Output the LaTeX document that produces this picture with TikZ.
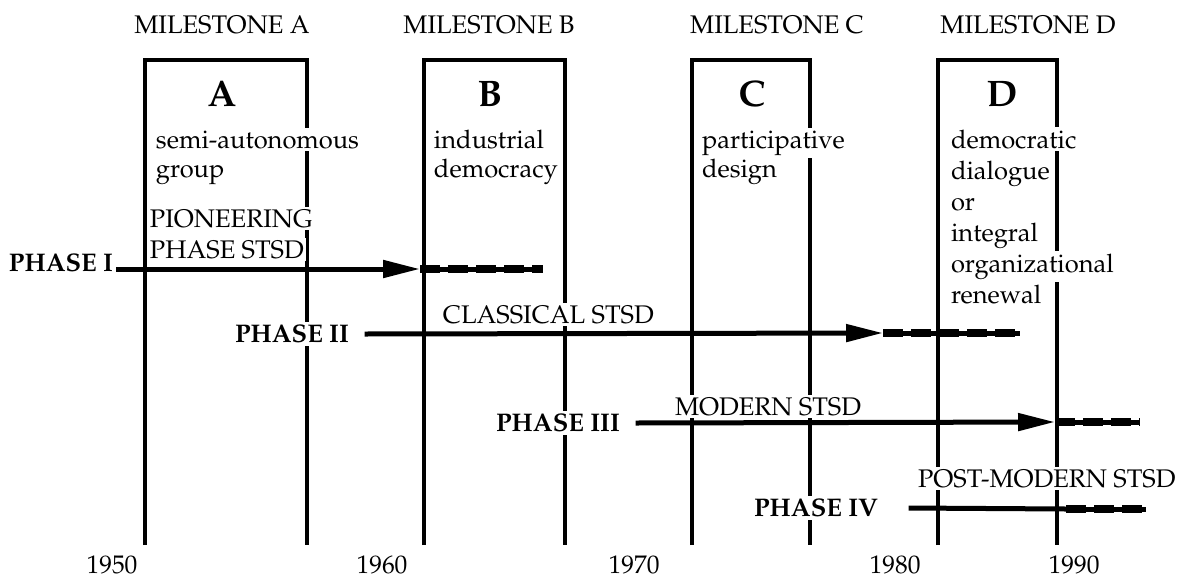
\documentclass[tikz,border=0pt]{standalone}
\usepackage[T1]{fontenc}
\renewcommand{\rmdefault}{ppl}
\usepackage{tikz}
\usetikzlibrary{arrows.meta,positioning,calc}
\tikzset{
  boxline/.style={line width=0.7mm,line join=miter},
  milestone/.style={font=\fontsize{14.5}{17}\selectfont,anchor=base,inner sep=0pt},
  boxletter/.style={font=\fontsize{21}{24}\selectfont\bfseries,anchor=base,inner sep=0pt},
  boxnote/.style={font=\fontsize{14.5}{17}\selectfont,anchor=base west,fill=white,inner sep=1.5pt},
  phaselabel/.style={font=\fontsize{14.5}{17}\selectfont\bfseries,fill=white,inner sep=1.5pt},
  streamlabel/.style={font=\fontsize{14.5}{17}\selectfont,anchor=base west,fill=white,inner sep=1.5pt},
  yearlabel/.style={font=\fontsize{14.5}{17}\selectfont,anchor=base,inner sep=0pt},
  stream/.style={line width=1mm,-{Triangle[length=7.4mm,width=3.4mm]}},
  streamline/.style={line width=1mm},
  trail/.style={line width=1mm,postaction={draw,line width=1.5mm,dash pattern=on 4mm off 1.6mm}},
}
\begin{document}
\begin{tikzpicture}[x=0.2mm,y=-0.2mm]
\useasboundingbox (0,0) rectangle (1187,578);

% milestone boxes
\foreach \l/\r in {145/307,424/565,692/810,938/1057}
  \draw[boxline] (\l,545) |- (\r,60) -- (\r,545);

% headings
\node[milestone] (msa) at (222,33) {MILESTONE A};
\node[milestone] (msb) at (489,33) {MILESTONE B};
\node[milestone] (msc) at (777,33) {MILESTONE C};
\node[milestone] (msd) at (1028,33) {MILESTONE D};

\node[boxletter] (la) at (222,106) {A};
\node[boxletter] (lb) at (490,106) {B};
\node[boxletter] (lc) at (752,106) {C};
\node[boxletter] (ld) at (1002,106) {D};

% box notes
\node[boxnote] (na1) at (153,148) {semi-autonomous};
\node[boxnote] (na2) at (153,177) {group};
\node[boxnote] (nb1) at (431,148) {industrial};
\node[boxnote] (nb2) at (431,177) {democracy};
\node[boxnote] (nc1) at (699,148) {participative};
\node[boxnote] (nc2) at (699,177) {design};
\foreach \t [count=\i] in {democratic,dialogue,or,integral,organizational,renewal}
  \node[boxnote] (nd\i) at (948,{148+31*(\i-1)}) {\t};

% phases
\node[phaselabel,anchor=base east] (p1) at (116,271) {PHASE I};
\node[streamlabel] (s1a) at (147,227) {PIONEERING};
\node[streamlabel] (s1b) at (147,258) {PHASE STSD};
\coordinate (tip1) at (420,269);
\coordinate (end1) at (543,269);

\node[phaselabel,anchor=east] (p2) at (352,334) {PHASE II};
\node[streamlabel] (s2) at (440,323) {CLASSICAL STSD};
\coordinate (tip2) at (883,333);
\coordinate (end2) at (1020,333);

\node[phaselabel,anchor=east] (p3) at (623,423) {PHASE III};
\node[streamlabel] (s3) at (672,415) {MODERN STSD};
\coordinate (tip3) at (1055,422);
\coordinate (end3) at (1140,422);

\node[phaselabel,anchor=east] (p4) at (881,508) {PHASE IV};
\node[streamlabel] (s4) at (915,487) {POST-MODERN STSD};
\coordinate (mid4) at (1066,509);
\coordinate (end4) at (1146,509);

% phase arrows
\draw[stream] (p1.east |- tip1) -- (tip1);
\draw[trail] (tip1) -- (end1);
\draw[stream] ([xshift=2.5mm]p2.east) -- (tip2);
\draw[trail] (tip2) -- (end2);
\draw[stream] ([xshift=2.5mm]p3.east) -- (tip3);
\draw[trail] (tip3) -- (end3);
\draw[streamline] ([xshift=5.5mm]p4.east) -- (mid4);
\draw[trail] (mid4) -- (end4);

% years
\foreach \yr/\x in {1950/112,1960/382,1970/634,1980/895,1990/1074}
  \node[yearlabel] (y\yr) at (\x,573) {\yr};
\end{tikzpicture}
\end{document}
